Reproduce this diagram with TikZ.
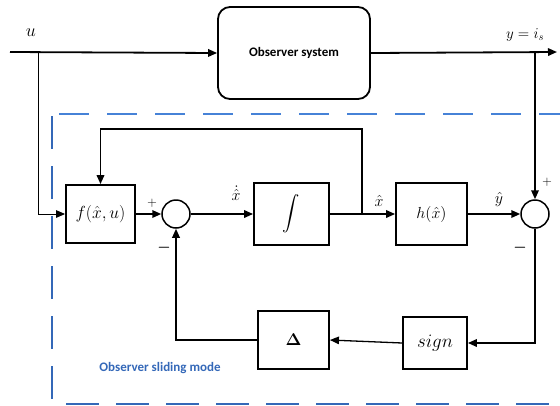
\RequirePackage{fix-cm}
\documentclass[tikz,border=0pt]{standalone}
\usepackage{amsmath}
\usepackage{fontspec}
\newfontfamily\carlito{Carlito}
\usetikzlibrary{arrows.meta}
\definecolor{dashblue}{RGB}{52,104,184}
\definecolor{lightblue}{RGB}{70,130,215}
\begin{document}
\begin{tikzpicture}[x=1pt,y=-1pt,
  blk/.style={draw,line width=1.8pt,inner sep=0pt,font=\fontsize{16}{18}\selectfont},
  sumc/.style={draw,circle,line width=1.5pt,minimum size=28pt,inner sep=0pt},
  conn/.style={line width=1.8pt},
  thin conn/.style={line width=1pt},
  arr/.style={-{Triangle[length=9pt,width=7.5pt]}},
  lbl/.style={font=\fontsize{15}{17}\selectfont},
  sgn/.style={font=\fontsize{13}{15}\selectfont}]
\useasboundingbox (0,0) rectangle (560,405);
\begin{scope}
\clip (0,0) rectangle (560,405);
% dashed frame
\draw[lightblue,line width=1.8pt,dash pattern=on 30pt off 18pt,dash phase=-2pt] (57,114) -- (600,114);
\draw[dashblue,line width=2.6pt,dash pattern=on 33pt off 17pt,dash phase=-4pt] (52,112) -- (52,400);
\draw[dashblue,line width=2.6pt,dash pattern=on 33pt off 17pt] (66,404) -- (600,404);
\end{scope}
% blocks
\node[blk,rounded corners=12pt,minimum width=152pt,minimum height=92pt,font=\carlito\bfseries\fontsize{13}{15}\selectfont] (obs) at (294,53) {Observer system};
\node[blk,minimum width=69pt,minimum height=58pt,font=\fontsize{17.5}{19}\selectfont] (f) at (100.5,214) {$f(\hat{x},u)$};
\node[sumc] (s1) at (176,214) {};
\node[blk,minimum width=75pt,minimum height=62pt,font=\fontsize{19}{21}\selectfont] (int) at (291.5,214) {$\displaystyle\int$};
\node[blk,minimum width=71pt,minimum height=62pt] (h) at (431.5,214) {$h(\hat{x})$};
\node[sumc] (s2) at (535,214) {};
\node[blk,minimum width=64pt,minimum height=52pt,font=\fontsize{19}{21}\selectfont] (sign) at (435,343) {$sign$};
\node[blk,minimum width=71pt,minimum height=58pt,font=\fontsize{17}{19}\selectfont] (delta) at (293.5,340) {$\boldsymbol{\Delta}$};
% coordinates
\coordinate (uin) at (10,52);
\coordinate (ubr) at (38,52);
\coordinate (yout) at (557,52);
\coordinate (ybr) at (535,52);
\coordinate (xbr) at (362,214);
\coordinate (fbtop) at (362,129);
% connectors
\draw[conn,arr] (uin) -- (obs.west);
\draw[thin conn,arr] (ubr) |- (f.west);
\draw[conn,arr] (obs.east) -- (yout);
\draw[conn,arr] (ybr) -- (s2.north);
\draw[conn,arr] (f.east) -- (s1.west);
\draw[conn,arr] (s1.east) -- (int.west);
\draw[conn,arr] (int.east) -- (h.west);
\draw[conn,arr] (xbr) -- (fbtop) -| (f.north);
\draw[conn,arr] (h.east) -- (s2.west);
\draw[conn,arr] (s2.south) |- (sign.east);
\draw[thin conn,line width=1.3pt,arr] (sign.west) -- (delta.east);
\draw[conn,arr] (delta.west) -| (s1.south);
% labels
\node[lbl,font=\fontsize{18}{20}\selectfont] (lu) at (31,33) {$u$};
\node[lbl] (ly) at (525,35) {$y=i_s$};
\node[lbl,font=\fontsize{16}{18}\selectfont] (lxd) at (236,193) {$\dot{\hat{x}}$};
\node[lbl,font=\fontsize{16}{18}\selectfont] (lx) at (379,201) {$\hat{x}$};
\node[lbl,font=\fontsize{16}{18}\selectfont] (lyh) at (499,199) {$\hat{y}$};
\node[sgn] (p1) at (152,203) {$+$};
\node[sgn,font=\fontsize{15}{17}\selectfont] (m1) at (164,248) {$\boldsymbol{-}$};
\node[sgn] (p2) at (547,182) {$+$};
\node[sgn,font=\fontsize{15}{17}\selectfont] (m2) at (520,248) {$\boldsymbol{-}$};
\node[font=\carlito\bfseries\fontsize{13}{15}\selectfont,text=dashblue] (lsm) at (160,368) {Observer sliding mode};
\end{tikzpicture}
\end{document}
